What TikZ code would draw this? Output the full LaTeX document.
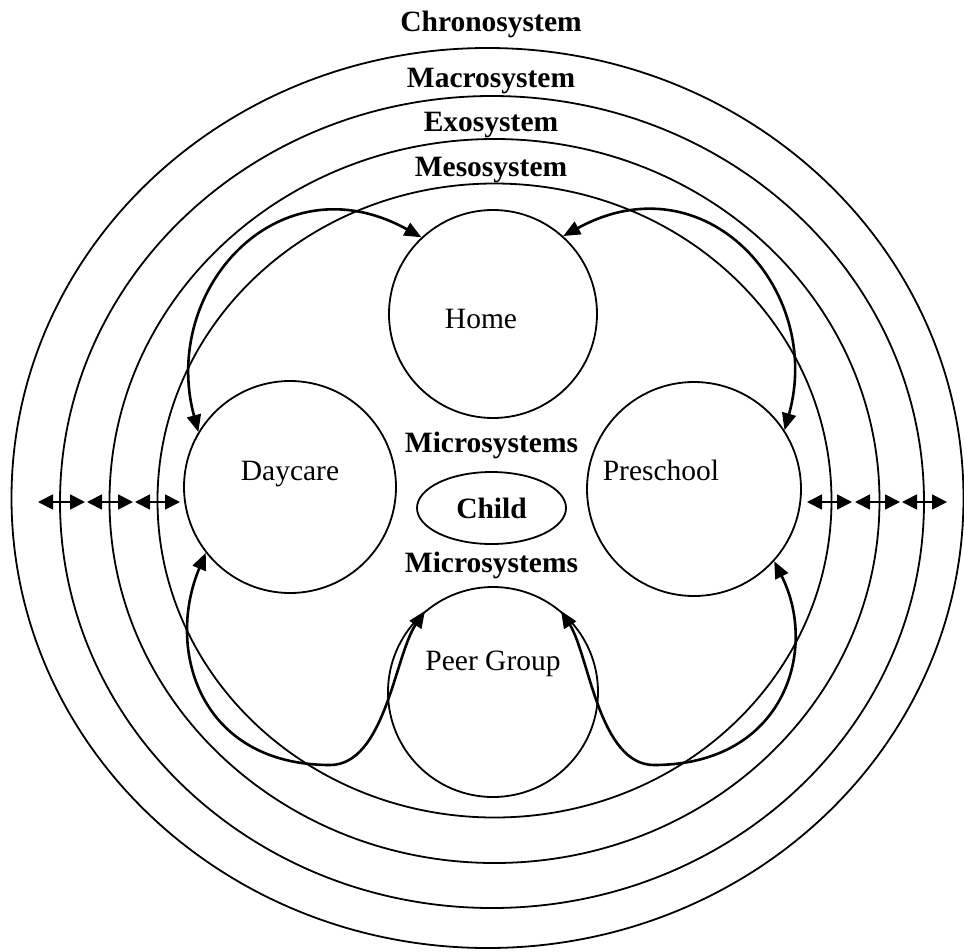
\documentclass[tikz,border=0pt]{standalone}
\usepackage{fontspec}
\setmainfont{Liberation Serif}
\usetikzlibrary{arrows.meta,shapes.geometric}

\tikzset{
  ring/.style={line width=1.8pt},
  micro/.style={circle, draw, line width=1.8pt, inner sep=0pt},
  syslabel/.style={font=\fontsize{29.5}{34}\selectfont\bfseries, anchor=base},
  link/.style={line width=2.6pt, {Triangle[length=17pt,width=14pt]}-{Triangle[length=17pt,width=14pt]}},
  sysarrow/.style={line width=1.8pt, {Triangle[length=15pt,width=15pt]}-{Triangle[length=15pt,width=15pt]}},
}

\begin{document}
\begin{tikzpicture}[x=1pt,y=-1pt, font=\fontsize{29.5}{34}\selectfont]
  \useasboundingbox (0,0) rectangle (964,951);

  % system rings, outside in
  \draw[ring] (487.5,498) ellipse [x radius=476, y radius=450];
  \draw[ring] (492,502) ellipse [x radius=432, y radius=406];
  \draw[ring] (494.5,501) ellipse [x radius=385, y radius=362];
  \draw[ring] (494.5,500.5) ellipse [x radius=337, y radius=317];

  % ring labels
  \node[syslabel] (chrono) at (491,31) {Chronosystem};
  \node[syslabel] (macro) at (491,87) {Macrosystem};
  \node[syslabel] (exo) at (491,131) {Exosystem};
  \node[syslabel] (meso) at (491,176) {Mesosystem};

  % microsystems
  \node[micro, minimum size=208pt] (home) at (493,314) {};
  \node[micro, minimum size=212pt] (daycare) at (290,487) {};
  \node[micro, minimum size=214pt] (preschool) at (694,489) {};
  \node[micro, minimum size=210pt] (peer) at (493,692) {};
  \node[anchor=base] (homeT) at (481,328) {Home};
  \node[anchor=base] (daycareT) at (290,480) {Daycare};
  \node[anchor=base] (preschoolT) at (661,480) {Preschool};
  \node[anchor=base] (peerT) at (493,670) {Peer Group};

  % child in the middle
  \node[ellipse, draw, line width=1.8pt, minimum width=149pt, minimum height=72pt, inner sep=0pt] (child) at (491.5,508) {};
  \node[syslabel] (childT) at (491.5,518) {Child};
  \node[syslabel] (microA) at (491.5,452) {Microsystems};
  \node[syslabel] (microB) at (491.5,572) {Microsystems};

  % mesosystem links
  \draw[link] (daycare.149) .. controls (160,290) and (278,158) .. (home.133);
  \draw[link] (home.48) .. controls (706,158) and (824,290) .. (preschool.33);
  \draw[link] (daycare.218) .. controls (165,650) and (200,765) .. (330,765)
    .. controls (385,765) and (395,655) .. (peer.130);
  \draw[link] (peer.50) .. controls (589,655) and (599,765) .. (654,765)
    .. controls (784,765) and (819,650) .. (preschool.318);

  % arrows across the rings
  \foreach \a/\b [count=\i] in {38/85, 87/133, 135/180, 807/852, 855/900, 902/947} {
    \coordinate (sa\i) at (\a,502);
    \coordinate (sb\i) at (\b,502);
    \draw[sysarrow] (sa\i) -- (sb\i);
  }
\end{tikzpicture}
\end{document}
